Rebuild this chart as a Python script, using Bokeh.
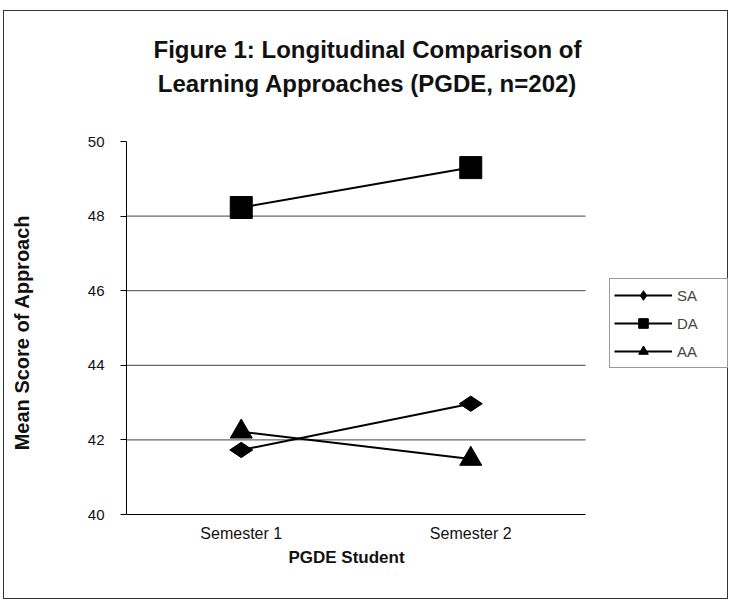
from bokeh.plotting import figure
from bokeh.models import (FixedTicker, Legend, LegendItem, Label, Range1d)
from bokeh.embed import file_html
from bokeh.resources import INLINE
import math

# ---- data ----
categories = ["Semester 1", "Semester 2"]
sa_values = [41.73, 42.97]
da_values = [48.23, 49.30]
aa_values = [42.22, 41.49]
y_ticks = [40, 42, 44, 46, 48, 50]
grid_ticks = [42, 44, 46, 48]
title_lines = ["Figure 1: Longitudinal Comparison of",
               "Learning Approaches (PGDE, n=202)"]
x_title = "PGDE Student"
y_title = "Mean Score of Approach"
series_names = ["SA", "DA", "AA"]

FONT = "Liberation Sans"

# geometry (pixels, canvas-relative)
W, H = 725, 589
AX_LEFT, AX_TOP = 122, 130
AX_W, AX_H = 459, 373

n_cat = len(categories)
x_pos = [i + 0.5 for i in range(n_cat)]
y_lo, y_hi = y_ticks[0], y_ticks[-1]
xu = n_cat / AX_W                 # data units per pixel
yu = (y_hi - y_lo) / AX_H
x_start = -AX_LEFT * xu
x_end = x_start + W * xu
y_end = y_hi + AX_TOP * yu
y_start = y_end - H * yu

p = figure(width=W, height=H, output_backend="svg", toolbar_location=None,
           title=None,
           x_range=Range1d(x_start, x_end), y_range=Range1d(y_start, y_end),
           min_border=0)
p.styles = {"border": "1px solid #333", "margin-left": "3px", "margin-top": "10px"}
p.background_fill_color = "white"
p.border_fill_color = "white"
p.outline_line_color = None
p.xgrid.visible = False
p.ygrid.visible = False

# axes (fixed at the corner of the plotting area)
p.yaxis.fixed_location = 0
p.yaxis.bounds = (y_lo, y_hi)
p.yaxis.ticker = FixedTicker(ticks=y_ticks)
p.yaxis.minor_tick_line_color = None
p.yaxis.major_tick_out = 6
p.yaxis.major_tick_in = 0
p.yaxis.axis_line_color = "black"
p.yaxis.major_tick_line_color = "black"
p.yaxis.major_label_text_font = FONT
p.yaxis.major_label_text_font_size = "15px"
p.yaxis.major_label_text_color = "#111"
p.yaxis.major_label_standoff = 16

p.xaxis.fixed_location = y_lo
p.xaxis.bounds = (0, n_cat)
p.xaxis.ticker = FixedTicker(ticks=x_pos)
p.xaxis.major_label_overrides = {x: c for x, c in zip(x_pos, categories)}
p.xaxis.minor_tick_line_color = None
p.xaxis.major_tick_out = 0
p.xaxis.major_tick_in = 0
p.xaxis.axis_line_color = "black"
p.xaxis.major_label_text_font = FONT
p.xaxis.major_label_text_font_size = "16px"
p.xaxis.major_label_text_color = "#111"
p.xaxis.major_label_standoff = 10

# horizontal gridlines limited to the axes area
p.segment(x0=[0] * len(grid_ticks), x1=[n_cat] * len(grid_ticks),
          y0=grid_ticks, y1=grid_ticks, line_color="#444", line_width=1)

# series
def add_series(vals, marker, size, angle=0.0):
    r_line = p.line(x_pos, vals, line_color="black", line_width=2)
    r_mark = p.scatter(x_pos, vals, marker=marker, size=size, angle=angle,
                       fill_color="black", line_color="black")
    return [r_line, r_mark]

sa_r = add_series(sa_values, "diamond", 23, angle=math.pi / 2)
da_r = add_series(da_values, "square", 22)
aa_r = add_series(aa_values, "triangle", 22)

legend = Legend(items=[LegendItem(label=series_names[0], renderers=sa_r),
                       LegendItem(label=series_names[1], renderers=da_r),
                       LegendItem(label=series_names[2], renderers=aa_r)],
                location=(605, 232), margin=0, padding=4,
                glyph_width=58, glyph_height=24, spacing=4,
                label_standoff=5, label_width=46, label_height=24,
                label_text_font=FONT, label_text_font_size="15px",
                border_line_color="#333", border_line_width=1,
                background_fill_color="white", background_fill_alpha=1)
p.add_layout(legend, "center")

def add_text(txt, x, y, size, angle=0.0):
    p.add_layout(Label(x=x, y=y, x_units="screen", y_units="screen",
                       text=txt, angle=angle, text_align="center",
                       text_baseline="alphabetic", text_font=FONT,
                       text_font_size=size, text_font_style="bold",
                       text_color="#111"))

# title (two lines)
add_text(title_lines[0], 363, 551, "24px")
add_text(title_lines[1], 363, 517, "24px")
# axis titles
add_text(x_title, 342, 43, "17px")
add_text(y_title, 17, 268, "20px", angle=math.pi / 2)

open("out.html", "w").write(file_html(p, INLINE))
